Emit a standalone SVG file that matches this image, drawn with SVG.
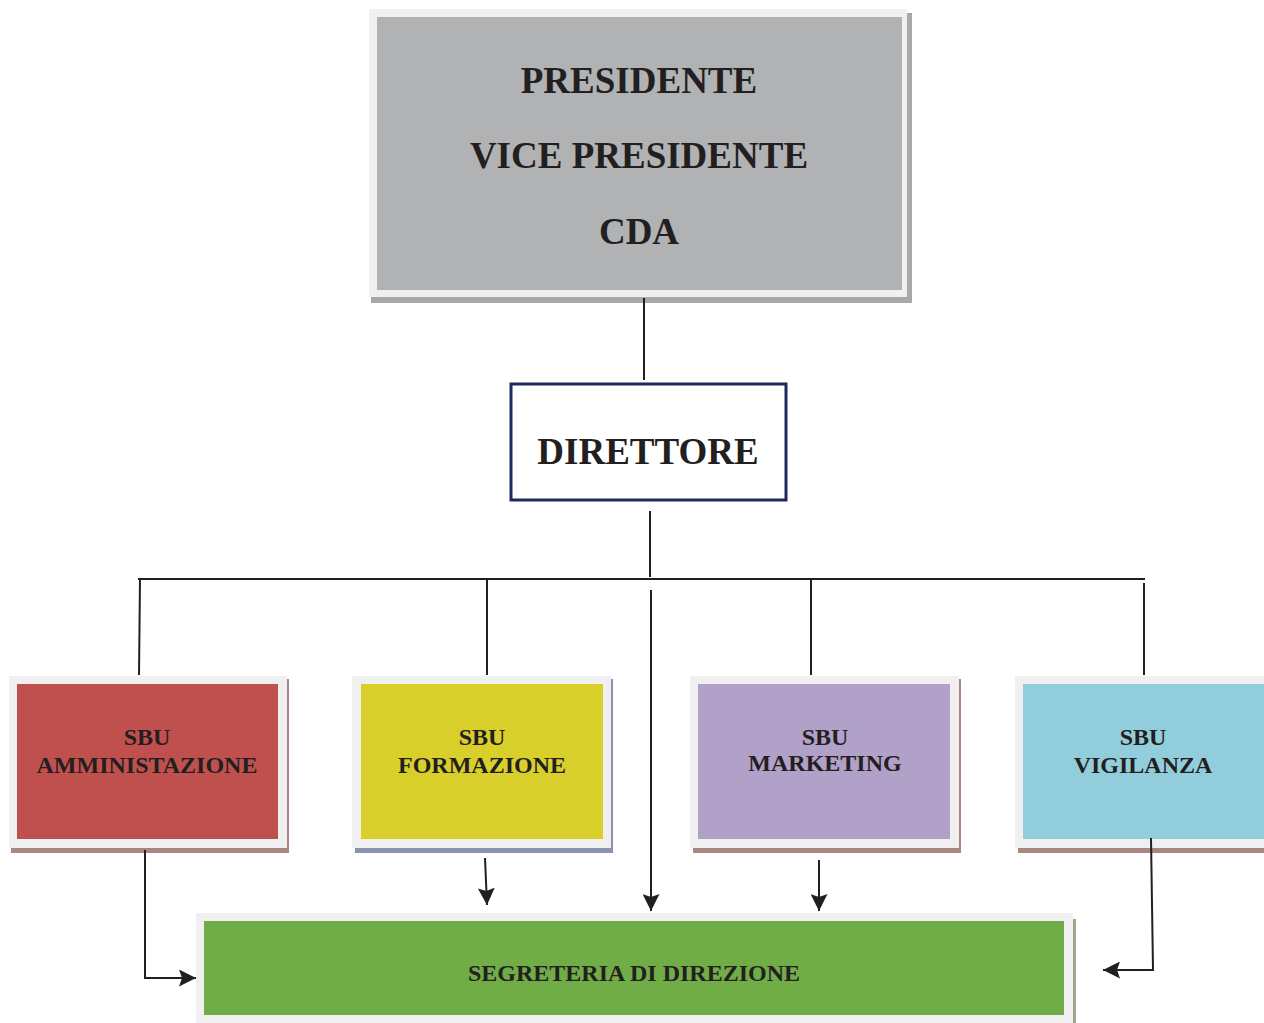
<svg xmlns="http://www.w3.org/2000/svg" width="1264" height="1023" viewBox="0 0 1264 1023">
<defs>
<style>
.t{font-family:"Liberation Serif","Times New Roman",serif;font-weight:bold;fill:#231f20;text-anchor:middle}
.frame{fill:#f0f0f0}
.ln{stroke:#231f20;stroke-width:2;fill:none}
</style>
<marker id="ah" markerUnits="userSpaceOnUse" markerWidth="17" markerHeight="17" viewBox="0 0 17 17" refX="17" refY="8.5" orient="auto">
<path d="M0,0 L17,8.5 L0,17 L3,8.5 Z" fill="#231f20"/>
</marker>
</defs>
<rect width="1264" height="1023" fill="#ffffff"/>

<g id="presidente">
<rect x="371" y="13" width="541" height="290" fill="#a8a8a8"/>
<rect class="frame" x="369" y="9" width="538" height="288"/>
<rect x="377" y="17" width="525" height="273" fill="#b1b2b4"/>
<text class="t" x="639" y="93" font-size="37">PRESIDENTE</text>
<text class="t" x="639" y="168" font-size="37">VICE PRESIDENTE</text>
<text class="t" x="639" y="244" font-size="37">CDA</text>
</g>

<g id="direttore">
<rect x="511" y="384" width="275" height="116" fill="#ffffff" stroke="#1f2a5c" stroke-width="3"/>
<text class="t" x="648" y="464" font-size="37">DIRETTORE</text>
</g>

<g id="sbu-amministrazione">
<rect x="11" y="679" width="278" height="174" fill="#ad8580"/>
<rect class="frame" x="9" y="676" width="278" height="172"/>
<rect x="17" y="684" width="261" height="155" fill="#c0504d"/>
<text class="t" x="147" y="745" font-size="24">SBU</text>
<text class="t" x="147" y="773" font-size="24">AMMINISTAZIONE</text>
</g>

<g id="sbu-formazione">
<rect x="355" y="679" width="258" height="174" fill="#8a94b0"/>
<rect class="frame" x="352" y="676" width="259" height="172"/>
<rect x="361" y="684" width="242" height="155" fill="#d9cf2b"/>
<text class="t" x="482" y="745" font-size="24">SBU</text>
<text class="t" x="482" y="773" font-size="24">FORMAZIONE</text>
</g>

<g id="sbu-marketing">
<rect x="693" y="679" width="268" height="174" fill="#ad8580"/>
<rect class="frame" x="690" y="676" width="269" height="172"/>
<rect x="698" y="684" width="252" height="155" fill="#b1a0c7"/>
<text class="t" x="825" y="745" font-size="24">SBU</text>
<text class="t" x="825" y="771" font-size="24">MARKETING</text>
</g>

<g id="sbu-vigilanza">
<rect x="1018" y="679" width="250" height="174" fill="#ad8580"/>
<rect class="frame" x="1015" y="676" width="253" height="172"/>
<rect x="1023" y="684" width="245" height="155" fill="#92cddc"/>
<text class="t" x="1143" y="745" font-size="24">SBU</text>
<text class="t" x="1143" y="773" font-size="24">VIGILANZA</text>
</g>

<g id="segreteria">
<rect x="1072" y="919" width="4" height="104" fill="#a0a88e"/>
<rect class="frame" x="196" y="913" width="877" height="110"/>
<rect x="204" y="921" width="860" height="94" fill="#70ad47"/>
<text class="t" x="634" y="981" font-size="24">SEGRETERIA DI DIREZIONE</text>
</g>

<g id="connectors">
<line class="ln" x1="644" y1="298" x2="644" y2="380"/>
<line class="ln" x1="650" y1="511" x2="650" y2="577"/>
<line class="ln" x1="138" y1="579" x2="1145" y2="579" stroke-width="2.5"/>
<line class="ln" x1="140" y1="579" x2="139" y2="675"/>
<line class="ln" x1="487" y1="579" x2="487" y2="675"/>
<line class="ln" x1="811" y1="579" x2="811" y2="675"/>
<line class="ln" x1="1144" y1="583" x2="1144" y2="675"/>
<line class="ln" x1="651" y1="590" x2="651" y2="911" marker-end="url(#ah)"/>
<polyline class="ln" points="145,850 145,978 196,978" marker-end="url(#ah)"/>
<line class="ln" x1="485" y1="858" x2="487" y2="905" marker-end="url(#ah)"/>
<line class="ln" x1="819" y1="860" x2="819" y2="911" marker-end="url(#ah)"/>
<polyline class="ln" points="1151,838 1153,970 1103,970" marker-end="url(#ah)"/>
</g>
</svg>
